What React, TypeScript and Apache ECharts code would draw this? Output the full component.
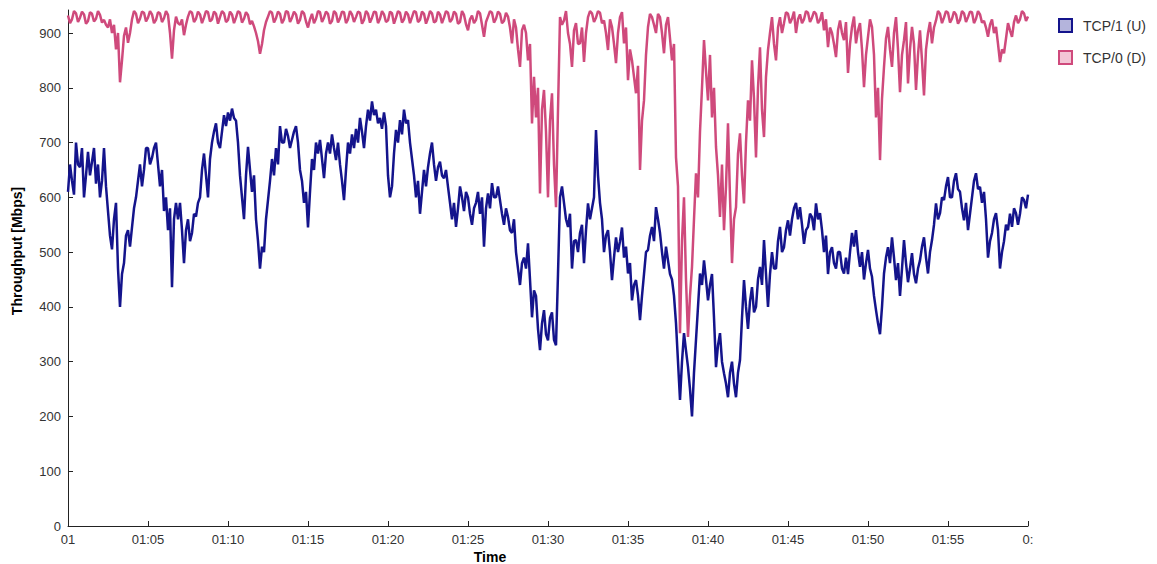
import React, { useEffect, useRef } from "react";
import * as echarts from "echarts";

// Sampling step of the series, in minutes after 01:00
const SAMPLE_STEP_MIN = 0.125;

// TCP/1 (U) throughput, Mbps
const tcp1Up = [
  610, 660, 630, 605, 700, 660, 655, 690, 600, 640, 683, 640, 665, 690, 625, 660, 600, 630, 690, 620,
  575, 530, 505, 560, 590, 470, 400, 460, 480, 530, 540, 510, 545, 580, 600, 630, 660, 620, 650, 690,
  690, 660, 672, 690, 700, 660, 620, 650, 575, 600, 540, 580, 436, 560, 590, 560, 590, 540, 480, 540,
  560, 520, 535, 570, 565, 590, 600, 650, 680, 640, 600, 670, 700, 720, 735, 700, 690, 720, 750, 730,
  755, 740, 762, 745, 740, 700, 640, 600, 560, 640, 692, 650, 610, 640, 560, 520, 470, 510, 500, 560,
  595, 630, 670, 640, 690, 660, 730, 700, 700, 725, 712, 690, 705, 720, 730, 700, 650, 630, 590, 610,
  545, 610, 670, 650, 700, 680, 705, 670, 635, 680, 700, 680, 715, 690, 668, 700, 660, 630, 595, 650,
  700, 680, 715, 690, 725, 700, 745, 720, 690, 730, 760, 740, 775, 750, 760, 735, 745, 725, 755, 730,
  640, 600, 620, 680, 723, 700, 741, 715, 760, 735, 741, 700, 670, 640, 600, 630, 570, 610, 650, 620,
  655, 680, 700, 660, 630, 655, 665, 640, 635, 650, 619, 590, 560, 590, 546, 580, 620, 600, 575, 610,
  600, 570, 550, 580, 590, 610, 570, 600, 510, 580, 607, 580, 626, 600, 600, 620, 595, 570, 550, 580,
  564, 540, 535, 560, 500, 470, 440, 480, 490, 470, 516, 450, 381, 430, 420, 360, 321, 370, 394, 350,
  339, 380, 390, 340, 330, 460, 600, 620, 590, 560, 546, 570, 470, 520, 522, 500, 535, 550, 480, 540,
  589, 560, 580, 600, 723, 640, 590, 560, 500, 530, 540, 500, 449, 490, 527, 500, 520, 545, 490, 510,
  461, 480, 412, 440, 449, 420, 376, 420, 460, 500, 504, 530, 546, 520, 582, 560, 535, 500, 470, 510,
  485, 460, 450, 420, 370, 300, 230, 300, 352, 320, 290, 250, 200, 280, 340, 400, 461, 440, 485, 450,
  412, 440, 460, 380, 290, 330, 352, 300, 279, 260, 235, 280, 300, 260, 235, 280, 303, 380, 449, 400,
  360, 410, 436, 390, 400, 450, 473, 440, 522, 460, 400, 460, 500, 470, 470, 520, 546, 500, 509, 540,
  558, 530, 560, 580, 590, 560, 582, 550, 515, 540, 546, 570, 564, 540, 589, 560, 571, 540, 500, 530,
  460, 500, 509, 480, 470, 500, 500, 470, 461, 490, 460, 500, 535, 510, 540, 500, 473, 500, 450, 480,
  504, 470, 455, 420, 394, 370, 350, 400, 461, 490, 509, 480, 527, 490, 449, 480, 420, 470, 522, 480,
  445, 470, 498, 460, 443, 470, 485, 510, 527, 490, 461, 500, 522, 550, 589, 560, 571, 600, 595, 620,
  637, 600, 600, 630, 644, 615, 610, 580, 558, 590, 540, 570, 600, 630, 644, 615, 619, 590, 610, 560,
  490, 520, 535, 560, 571, 540, 470, 500, 520, 550, 540, 570, 546, 580, 571, 550, 570, 600, 595, 580,
  605,
];

// TCP/0 (D) throughput, Mbps
const tcp0Down = [
  932, 918, 925, 940, 936, 920, 928, 939, 934, 917, 922, 938, 935, 921, 926, 940, 933, 919, 924, 915,
  910, 925, 900, 915, 870, 900, 810, 850, 895, 910, 882, 900, 925, 940, 935, 918, 926, 939, 937, 921,
  928, 940, 934, 918, 924, 938, 936, 920, 927, 940, 933, 900, 853, 905, 930, 918, 915, 925, 896, 915,
  930, 940, 937, 920, 926, 939, 934, 918, 928, 940, 938, 921, 925, 939, 935, 917, 929, 940, 936, 920,
  924, 939, 934, 918, 928, 940, 937, 919, 926, 938, 933, 916, 922, 912, 900, 885, 862, 880, 905, 920,
  930, 940, 937, 919, 927, 939, 935, 918, 925, 940, 938, 920, 928, 939, 934, 917, 924, 940, 936, 921,
  910, 925, 935, 918, 926, 940, 938, 920, 928, 939, 935, 917, 922, 940, 936, 919, 927, 939, 938, 918,
  925, 940, 934, 920, 929, 939, 937, 917, 924, 940, 935, 919, 928, 939, 938, 918, 926, 940, 934, 920,
  923, 939, 936, 917, 928, 940, 937, 919, 925, 939, 934, 918, 929, 940, 938, 920, 924, 939, 935, 917,
  927, 940, 936, 919, 922, 939, 934, 918, 928, 940, 937, 920, 925, 939, 935, 917, 920, 940, 933, 916,
  905, 925, 932, 918, 924, 940, 936, 915, 893, 920, 930, 940, 937, 919, 926, 939, 935, 918, 922, 937,
  930, 910, 881, 925, 910, 870, 838, 905, 915, 900, 850, 880, 735, 820, 746, 800, 607, 760, 796, 720,
  600, 740, 790, 660, 582, 760, 929, 915, 923, 940, 900, 880, 838, 905, 918, 880, 881, 910, 847, 900,
  929, 940, 936, 920, 928, 940, 937, 918, 923, 900, 869, 925, 911, 880, 845, 900, 929, 938, 881, 910,
  814, 870, 850, 820, 790, 840, 650, 740, 777, 860, 911, 935, 929, 915, 900, 935, 929, 900, 863, 915,
  929, 890, 850, 880, 673, 620, 352, 520, 600, 450, 345, 420, 473, 560, 644, 600, 720, 800, 887, 830,
  777, 860, 746, 800, 692, 640, 564, 660, 540, 620, 735, 600, 480, 560, 582, 680, 717, 640, 589, 700,
  777, 740, 850, 780, 673, 800, 874, 760, 710, 820, 869, 900, 929, 880, 850, 910, 929, 900, 918, 938,
  935, 918, 926, 939, 900, 925, 934, 918, 925, 940, 937, 920, 928, 939, 935, 918, 924, 938, 905, 925,
  874, 910, 900, 880, 856, 905, 923, 900, 887, 920, 827, 880, 911, 930, 881, 905, 918, 870, 801, 860,
  893, 925, 911, 860, 746, 800, 668, 780, 838, 890, 911, 870, 838, 900, 929, 870, 792, 860, 887, 920,
  808, 870, 911, 880, 796, 860, 905, 850, 786, 870, 900, 920, 881, 910, 923, 940, 935, 918, 928, 940,
  937, 919, 926, 939, 934, 917, 924, 940, 936, 920, 929, 939, 938, 918, 926, 940, 934, 919, 922, 910,
  893, 915, 925, 900, 911, 880, 847, 870, 863, 890, 918, 905, 893, 920, 932, 918, 925, 940, 936, 922,
  930,
];

const seriesNames = ["TCP/1 (U)", "TCP/0 (D)"];
const yTickValues = [0, 100, 200, 300, 400, 500, 600, 700, 800, 900];
const xTickValues = [0, 5, 10, 15, 20, 25, 30, 35, 40, 45, 50, 55, 60];
const xTickLabels = [
  "01", "01:05", "01:10", "01:15", "01:20", "01:25", "01:30",
  "01:35", "01:40", "01:45", "01:50", "01:55", "0:",
];
const Y_MAX = 942;

const FONT = "'Liberation Sans', Arial, sans-serif";
const BLUE = "#14148c";
const PINK = "#cf4a7c";
const AXIS = "#222222";

export default function App() {
  const ref = useRef<HTMLDivElement>(null);

  useEffect(() => {
    if (!ref.current) return;
    const chart = echarts.init(ref.current, undefined, { renderer: "svg" });
    const toPairs = (arr: number[]) => arr.map((v, i) => [i * SAMPLE_STEP_MIN, v]);

    chart.setOption({
      animation: false,
      backgroundColor: "#ffffff",
      textStyle: { fontFamily: FONT },
      grid: { left: 68, right: 129, top: 10, bottom: 38, containLabel: false },
      legend: {
        orient: "vertical",
        left: 1053,
        top: 13,
        itemWidth: 13,
        itemHeight: 13,
        itemGap: 17,
        icon: "rect",
        textStyle: { fontSize: 14, color: "#333", fontFamily: FONT, padding: [0, 0, 0, 6] },
        data: [
          { name: seriesNames[0], itemStyle: { color: "#b4b4dc", borderColor: BLUE, borderWidth: 2 } },
          { name: seriesNames[1], itemStyle: { color: "#f3c6d6", borderColor: PINK, borderWidth: 2 } },
        ],
      },
      xAxis: {
        type: "value",
        min: 0,
        max: 60,
        interval: 5,
        axisLine: { show: true, lineStyle: { color: AXIS, width: 1 } },
        axisTick: { show: true, inside: true, length: 5, lineStyle: { color: AXIS }, customValues: xTickValues },
        axisLabel: {
          color: "#333",
          fontSize: 13,
          fontFamily: FONT,
          margin: 7,
          customValues: xTickValues,
          formatter: (v: number) => xTickLabels[Math.round(v / 5)] ?? "",
        },
        splitLine: { show: false },
      },
      yAxis: {
        type: "value",
        min: 0,
        max: Y_MAX,
        interval: 100,
        axisLine: { show: true, lineStyle: { color: AXIS, width: 1 } },
        axisTick: { show: true, inside: true, length: 5, lineStyle: { color: AXIS }, customValues: yTickValues },
        axisLabel: {
          color: "#333",
          fontSize: 13,
          fontFamily: FONT,
          margin: 7,
          customValues: yTickValues,
          formatter: (v: number) => String(v),
        },
        splitLine: { show: false },
      },
      graphic: [
        {
          type: "text",
          x: 17,
          y: 251,
          rotation: Math.PI / 2,
          style: {
            text: "Throughput [Mbps]",
            font: `bold 14px ${FONT}`,
            fill: "#000",
            textAlign: "center",
            textVerticalAlign: "middle",
          },
        },
        {
          type: "text",
          x: 490,
          y: 557,
          style: {
            text: "Time",
            font: `bold 14px ${FONT}`,
            fill: "#000",
            textAlign: "center",
            textVerticalAlign: "middle",
          },
        },
      ],
      series: [
        {
          name: seriesNames[0],
          type: "line",
          data: toPairs(tcp1Up),
          showSymbol: false,
          lineStyle: { color: BLUE, width: 2.5 },
          itemStyle: { color: BLUE },
          z: 2,
        },
        {
          name: seriesNames[1],
          type: "line",
          data: toPairs(tcp0Down),
          showSymbol: false,
          lineStyle: { color: PINK, width: 2.5 },
          itemStyle: { color: PINK },
          z: 3,
        },
      ],
    });

    return () => chart.dispose();
  }, []);

  return (
    <div
      ref={ref}
      style={{ position: "absolute", left: 0, top: 0, width: 1157, height: 564 }}
    />
  );
}
